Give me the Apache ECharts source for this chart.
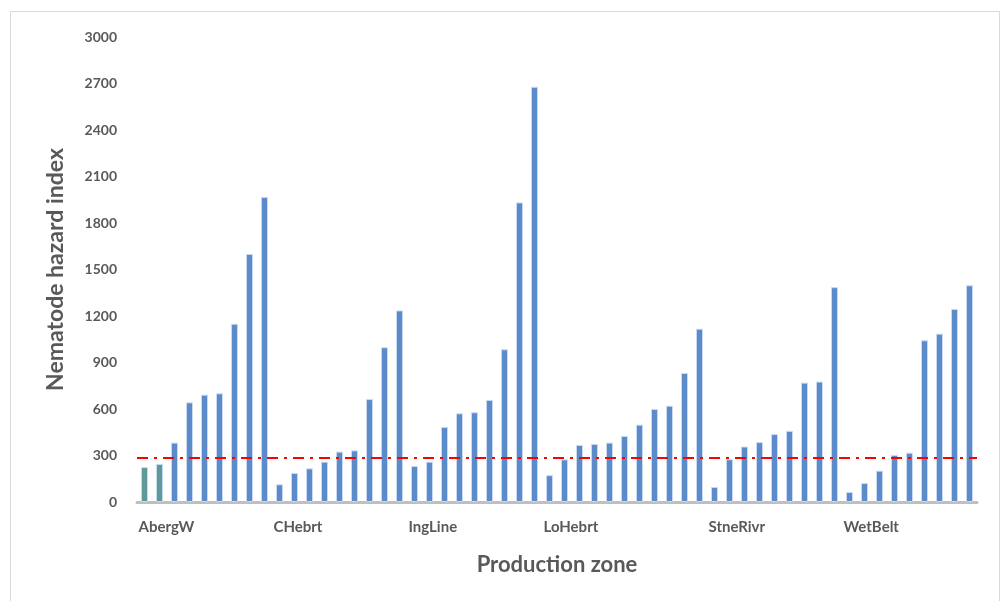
<!DOCTYPE html>
<html>
<head>
<meta charset="utf-8">
<script src="https://cdn.jsdelivr.net/npm/echarts@6/dist/echarts.min.js"></script>
<style>
  html, body { margin: 0; padding: 0; background: #fff; }
  #frame { position: absolute; left: 10px; top: 11px; width: 990px; height: 600px; border: 1px solid #d9d9d9; box-sizing: border-box; }
  #chart { position: absolute; left: 0; top: 0; width: 1007px; height: 601px; }
</style>
</head>
<body>
<div id="frame"></div>
<div id="chart"></div>
<script>
// production zones and how many sites each one has (in drawing order)
const zones = ['AbergW', 'CHebrt', 'IngLine', 'LoHebrt', 'StneRivr', 'WetBelt'];
const zoneSizes = [9, 9, 9, 11, 9, 9];

// nematode hazard index per site
const hazardAbergW = [225, 245, 383, 643, 692, 701, 1150, 1600, 1968];
const hazardCHebrt = [114, 187, 217, 260, 325, 333, 664, 998, 1236];
const hazardIngLine = [232, 260, 484, 572, 579, 658, 985, 1933, 2679];
const hazardLoHebrt = [173, 275, 368, 374, 383, 426, 499, 600, 621, 832, 1118];
const hazardStneRivr = [97, 276, 358, 386, 438, 459, 770, 777, 1386];
const hazardWetBelt = [64, 122, 202, 303, 318, 1043, 1086, 1245, 1398];

const threshold = 285;
const yTicks = { min: 0, max: 3000, step: 300 };

const allValues = [].concat(hazardAbergW, hazardCHebrt, hazardIngLine,
    hazardLoHebrt, hazardStneRivr, hazardWetBelt);

// one category per site, label only the first site of every zone
const categories = [];
const groupStart = {};
zones.forEach((z, gi) => {
    for (let i = 0; i < zoneSizes[gi]; i++) {
        if (i === 0) groupStart[categories.length] = z;
        categories.push(z + '_' + (i + 1));
    }
});

const textGray = '#595959';
const font = 'Lato, "Open Sans", sans-serif';

const chart = echarts.init(document.getElementById('chart'));

const option = {
    backgroundColor: 'transparent',
    animation: false,
    grid: { left: 137, right: 30, top: 37, bottom: 99 },
    xAxis: {
        type: 'category',
        data: categories,
        name: 'Production zone',
        nameLocation: 'middle',
        nameGap: 52,
        nameTextStyle: { color: textGray, fontSize: 22, fontWeight: 'bold', fontFamily: font },
        axisLine: { lineStyle: { color: '#bfbfbf', width: 3 } },
        axisTick: { show: false },
        axisLabel: {
            interval: (idx) => groupStart[idx] !== undefined,
            formatter: (v, idx) => groupStart[idx] || '',
            align: 'left',
            padding: [0, 0, 0, -6],
            margin: 18,
            color: textGray,
            fontSize: 15,
            fontWeight: 'bold',
            fontFamily: font
        }
    },
    yAxis: {
        type: 'value',
        min: yTicks.min,
        max: yTicks.max,
        interval: yTicks.step,
        name: 'Nematode hazard index',
        nameLocation: 'middle',
        nameGap: 70,
        nameTextStyle: { color: textGray, fontSize: 23, fontWeight: 'bold', fontFamily: font },
        axisLine: { show: false },
        axisTick: { show: false },
        splitLine: { show: false },
        axisLabel: {
            margin: 20,
            color: textGray,
            fontSize: 14,
            fontWeight: 'bold',
            fontFamily: font,
            formatter: (v) => String(v)
        }
    },
    series: [{
        type: 'bar',
        data: allValues,
        barWidth: 7,
        itemStyle: {
            color: (p) => p.dataIndex < 2 ? '#5f9a9a' : '#5b8bca',
            borderColor: '#c9daf0',
            borderWidth: 1
        },
        markLine: {
            silent: true,
            symbol: 'none',
            label: { show: false },
            lineStyle: { color: '#ff0000', width: 2, type: [11, 6, 3, 6] },
            data: [{ yAxis: threshold }]
        }
    }]
};

chart.setOption(option);
</script>
</body>
</html>
